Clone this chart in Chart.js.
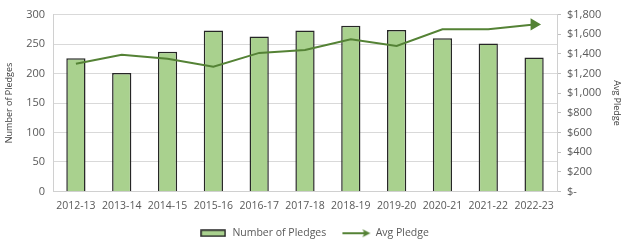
<!DOCTYPE html>
<html>
<head>
<meta charset="utf-8">
<script src="https://cdn.jsdelivr.net/npm/chart.js@4"></script>
<style>
  html, body { margin: 0; padding: 0; background: #fff; }
  #wrap { width: 626px; height: 243px; }
</style>
</head>
<body>
<div id="wrap"><canvas id="pledges"></canvas></div>
<script>
const years = ['2012-13', '2013-14', '2014-15', '2015-16', '2016-17', '2017-18',
    '2018-19', '2019-20', '2020-21', '2021-22', '2022-23'];
const numPledges = [226, 201, 237, 273, 263, 273, 281, 274, 260, 251, 227];
const avgPledge = [1300, 1390, 1350, 1270, 1410, 1440, 1550, 1480, 1650, 1650, 1700];
const countTicks = [0, 50, 100, 150, 200, 250, 300];
const dollarTicks = [0, 200, 400, 600, 800, 1000, 1200, 1400, 1600, 1800];

const barFill = '#a9d18e';
const barEdge = '#262626';
const lineGreen = '#548235';
const textGray = '#595959';

// little legend icons
function boxIcon() {
    const c = document.createElement('canvas');
    c.width = 26; c.height = 8;
    const g = c.getContext('2d');
    g.fillStyle = barFill;
    g.fillRect(1, 1, 24, 6);
    g.strokeStyle = barEdge;
    g.lineWidth = 1.5;
    g.strokeRect(1, 1, 24, 6);
    return c;
}
function arrowIcon() {
    const c = document.createElement('canvas');
    c.width = 30; c.height = 12;
    const g = c.getContext('2d');
    g.strokeStyle = lineGreen;
    g.fillStyle = lineGreen;
    g.lineWidth = 2;
    g.beginPath();
    g.moveTo(1, 6); g.lineTo(24, 6);
    g.stroke();
    g.beginPath();
    g.moveTo(29, 6); g.lineTo(21, 2); g.lineTo(23, 6); g.lineTo(21, 10);
    g.closePath();
    g.fill();
    return c;
}
const icons = [boxIcon(), arrowIcon()];

Chart.defaults.font.family = "'Open Sans', 'Liberation Sans', sans-serif";
Chart.defaults.font.size = 10;
Chart.defaults.color = textGray;

new Chart(document.getElementById('pledges'), {
    data: {
        labels: years,
        datasets: [{
            type: 'line',
            label: 'Avg Pledge',
            data: avgPledge,
            yAxisID: 'y1',
            borderColor: lineGreen,
            backgroundColor: lineGreen,
            borderWidth: 2,
            tension: 0,
            pointStyle: 'triangle',
            pointRotation: 90,
            pointRadius: avgPledge.map((v, i) => i === avgPledge.length - 1 ? 5 : 0),
            order: 0
        }, {
            type: 'bar',
            label: 'Number of Pledges',
            data: numPledges,
            yAxisID: 'y',
            backgroundColor: barFill,
            borderColor: barEdge,
            borderWidth: 1.5,
            barPercentage: 0.42,
            categoryPercentage: 1,
            order: 1
        }]
    },
    options: {
        responsive: true,
        maintainAspectRatio: false,
        animation: false,
        layout: { padding: { top: 12, left: 4, right: 2, bottom: 0 } },
        scales: {
            x: {
                grid: { display: false, drawTicks: false },
                border: { color: '#d0d0d0' },
                ticks: { color: textGray, maxRotation: 0, padding: 8, font: { size: 10.5 } }
            },
            y: {
                position: 'left',
                min: 0, max: 300,
                afterBuildTicks: axis => { axis.ticks = countTicks.map(v => ({ value: v })); },
                grid: { color: '#d9d9d9', drawTicks: false },
                border: { color: '#d0d0d0' },
                ticks: { color: textGray, padding: 8, font: { size: 11 } },
                title: { display: true, text: 'Number of Pledges', color: '#404040', font: { size: 9 }, padding: 0 },
                afterFit: axis => { axis.width = 49; }
            },
            y1: {
                position: 'right',
                min: 0, max: 1800,
                afterBuildTicks: axis => { axis.ticks = dollarTicks.map(v => ({ value: v })); },
                grid: { drawOnChartArea: false, color: '#bfbfbf', tickLength: 4 },
                border: { color: '#d0d0d0' },
                ticks: {
                    color: textGray,
                    padding: 6,
                    font: { size: 11 },
                    callback: v => v === 0 ? '$-' : '$' + v.toLocaleString('en-US')
                },
                title: { display: true, text: 'Avg Pledge', color: '#404040', font: { size: 9 }, padding: 2 },
                afterFit: axis => { axis.width = 67; }
            }
        },
        plugins: {
            legend: {
                position: 'bottom',
                labels: {
                    usePointStyle: true,
                    pointStyleWidth: 28,
                    padding: 8,
                    color: textGray,
                    font: { size: 10.5 },
                    generateLabels: chart => [
                        { text: 'Number of Pledges   ', pointStyle: icons[0], fontColor: textGray, datasetIndex: 1, lineWidth: 0 },
                        { text: 'Avg Pledge', pointStyle: icons[1], fontColor: textGray, datasetIndex: 0, lineWidth: 0 }
                    ]
                }
            },
            tooltip: { enabled: true }
        }
    },
    plugins: [{
        id: 'legendGap',
        // fix the legend box height so the plot reaches down like in the original
        beforeInit(chart) {
            if (!chart.legend) return;
            const fit = chart.legend.fit;
            chart.legend.fit = function () {
                fit.call(this);
                this.height = 23;
            };
        }
    }]
});
</script>
</body>
</html>
